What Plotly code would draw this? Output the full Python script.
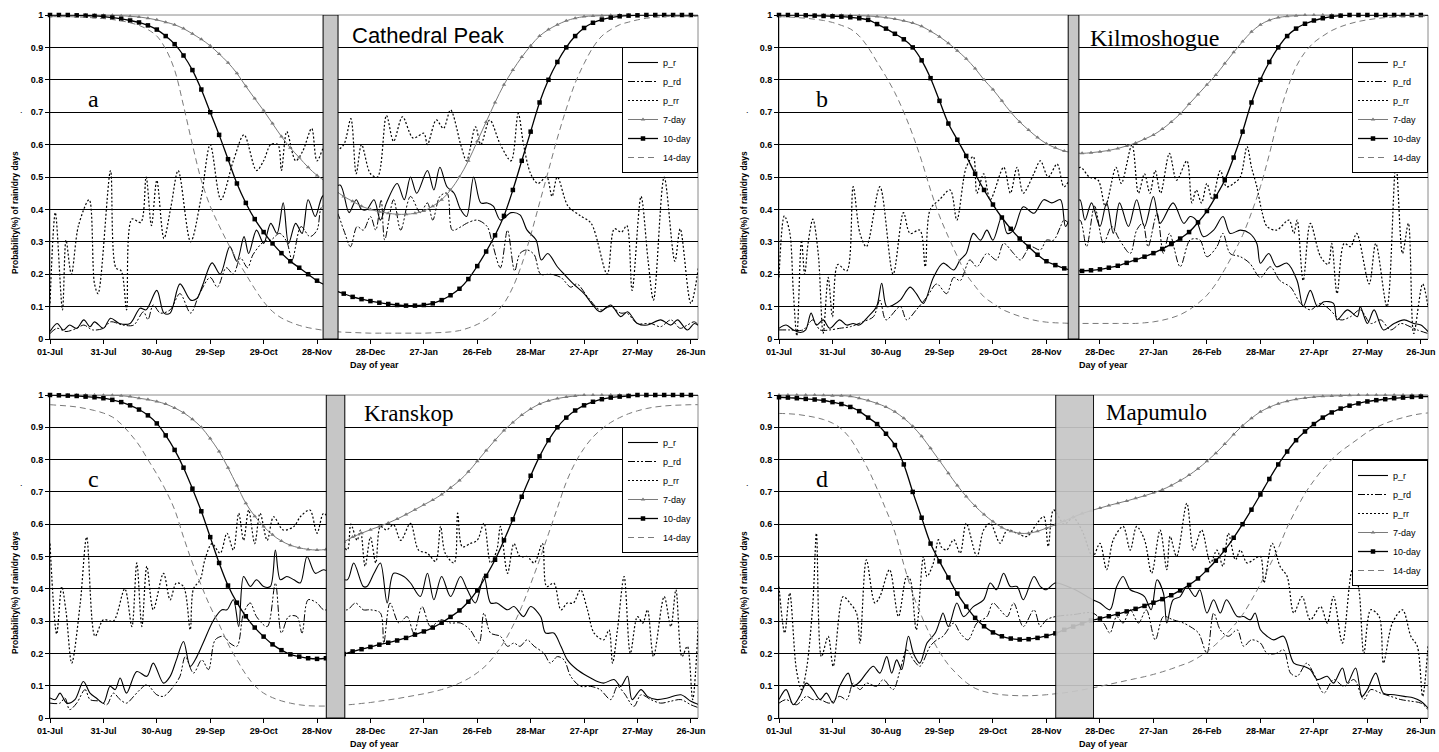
import plotly.graph_objects as go

W, H = 1439, 752
SANS = "Liberation Sans, Arial, sans-serif"
SERIF = "Liberation Serif, Times New Roman, serif"

# ---------------- axes / labels ----------------
DAYS5 = list(range(0, 366, 5))
TICK_DAYS = [0, 30, 60, 90, 120, 150, 180, 210, 240, 270, 300, 330, 360]
TICK_LABELS = ["01-Jul", "31-Jul", "30-Aug", "29-Sep", "29-Oct", "28-Nov", "28-Dec",
               "27-Jan", "26-Feb", "28-Mar", "27-Apr", "27-May", "26-Jun"]
Y_TICKS = [0, 0.1, 0.2, 0.3, 0.4, 0.5, 0.6, 0.7, 0.8, 0.9, 1]
Y_LABELS = ["0", "0.1", "0.2", "0.3", "0.4", "0.5", "0.6", "0.7", "0.8", "0.9", "1"]
STATIONS = ["Cathedral Peak", "Kilmoshogue", "Kranskop", "Mapumulo"]
LETTERS = ["a", "b", "c", "d"]
SERIES = ["p_r", "p_rd", "p_rr", "7-day", "10-day", "14-day"]
BAR_START = [153.4, 162.2, 155.2, 155.2]
BAR_END = [161.8, 168.2, 165.6, 176.4]

# ---------------- smooth dry-spell curves (every 5 days) ----------------
A_7DAY = [1, 1, 1, 1, 1, 1, 0.999, 0.999, 0.998, 0.996,
          0.994, 0.99, 0.985, 0.978, 0.97, 0.958, 0.942, 0.925, 0.905, 0.88,
          0.853, 0.82, 0.78, 0.742, 0.705, 0.665, 0.625, 0.59, 0.56, 0.53,
          0.505, 0.485, 0.46, 0.44, 0.425, 0.41, 0.4, 0.393, 0.388, 0.385,
          0.385, 0.388, 0.395, 0.41, 0.43, 0.46, 0.5, 0.55, 0.61, 0.67,
          0.73, 0.785, 0.83, 0.87, 0.905, 0.935, 0.955, 0.97, 0.982, 0.99,
          0.995, 0.997, 0.998, 0.999, 1, 1, 1, 1, 1, 1,
          1, 1, 1, 1]
A_10DAY = [1, 1, 1, 0.999, 0.998, 0.997, 0.995, 0.992, 0.988, 0.983,
           0.977, 0.968, 0.955, 0.935, 0.91, 0.875, 0.83, 0.77, 0.7, 0.63,
           0.555, 0.48, 0.42, 0.37, 0.33, 0.295, 0.265, 0.24, 0.22, 0.2,
           0.18, 0.165, 0.15, 0.14, 0.13, 0.123, 0.117, 0.112, 0.108, 0.105,
           0.103, 0.103, 0.105, 0.11, 0.12, 0.135, 0.155, 0.185, 0.225, 0.27,
           0.32, 0.38, 0.46, 0.55, 0.64, 0.73, 0.8, 0.855, 0.9, 0.935,
           0.96, 0.976, 0.986, 0.992, 0.996, 0.998, 0.999, 1, 1, 1,
           1, 1, 1, 1]
A_14DAY = [0.995, 0.995, 0.995, 0.994, 0.993, 0.991, 0.989, 0.986, 0.982, 0.976,
           0.968, 0.955, 0.935, 0.895, 0.83, 0.72, 0.6, 0.49, 0.41, 0.35,
           0.295, 0.245, 0.2, 0.155, 0.115, 0.085, 0.065, 0.052, 0.042, 0.035,
           0.03, 0.026, 0.023, 0.021, 0.02, 0.019, 0.018, 0.018, 0.018, 0.018,
           0.018, 0.018, 0.018, 0.019, 0.02, 0.022, 0.026, 0.034, 0.045, 0.06,
           0.08, 0.11, 0.16, 0.23, 0.32, 0.42, 0.52, 0.62, 0.71, 0.79,
           0.85, 0.9, 0.935, 0.955, 0.97, 0.978, 0.985, 0.99, 0.993, 0.995,
           0.996, 0.996, 0.996, 0.996]

B_7DAY = [1, 1, 1, 1, 1, 1, 1, 0.999, 0.999, 0.998,
          0.997, 0.995, 0.992, 0.988, 0.982, 0.975, 0.965, 0.95, 0.933, 0.913,
          0.89, 0.865, 0.835, 0.8, 0.77, 0.735, 0.7, 0.67, 0.645, 0.622,
          0.603, 0.59, 0.58, 0.575, 0.573, 0.575, 0.578, 0.582, 0.588, 0.596,
          0.605, 0.617, 0.63, 0.648, 0.67, 0.695, 0.725, 0.755, 0.785, 0.815,
          0.85, 0.885, 0.918, 0.948, 0.97, 0.984, 0.992, 0.996, 0.998, 1,
          1, 1, 1, 1, 1, 1, 1, 1, 1, 1,
          1, 1, 1, 1]
B_10DAY = [1, 1, 1, 0.999, 0.998, 0.997, 0.996, 0.995, 0.993, 0.99,
           0.985, 0.972, 0.958, 0.942, 0.925, 0.9, 0.86, 0.805, 0.735, 0.665,
           0.615, 0.565, 0.51, 0.46, 0.415, 0.375, 0.34, 0.31, 0.285, 0.26,
           0.24, 0.228, 0.218, 0.212, 0.21, 0.212, 0.215, 0.22, 0.226, 0.235,
           0.244, 0.254, 0.265, 0.278, 0.293, 0.31, 0.33, 0.36, 0.395, 0.44,
           0.49, 0.56, 0.64, 0.73, 0.8, 0.855, 0.9, 0.935, 0.958, 0.973,
           0.983, 0.99, 0.995, 0.998, 1, 1, 1, 1, 1, 1,
           1, 1, 1, 1]
B_14DAY = [0.995, 0.994, 0.992, 0.99, 0.987, 0.983, 0.977, 0.968, 0.957, 0.935,
           0.9, 0.855, 0.81, 0.76, 0.7, 0.63, 0.55, 0.46, 0.38, 0.315,
           0.255, 0.2, 0.163, 0.13, 0.11, 0.092, 0.08, 0.07, 0.062, 0.056,
           0.052, 0.05, 0.049, 0.048, 0.048, 0.048, 0.048, 0.048, 0.048, 0.048,
           0.048, 0.05, 0.053, 0.058, 0.065, 0.075, 0.09, 0.11, 0.135, 0.17,
           0.215, 0.265, 0.32, 0.39, 0.47, 0.57, 0.68, 0.77, 0.84, 0.885,
           0.915, 0.935, 0.952, 0.964, 0.973, 0.98, 0.985, 0.989, 0.992, 0.994,
           0.996, 0.997, 0.997, 0.997]

C_7DAY = [1, 1, 1, 1, 1, 1, 0.999, 0.999, 0.998, 0.995,
          0.99, 0.986, 0.98, 0.972, 0.96, 0.945, 0.925, 0.9, 0.865, 0.825,
          0.775, 0.72, 0.665, 0.625, 0.593, 0.567, 0.548, 0.535, 0.527, 0.522,
          0.52, 0.522, 0.528, 0.545, 0.56, 0.572, 0.583, 0.593, 0.604, 0.616,
          0.63, 0.645, 0.66, 0.675, 0.692, 0.713, 0.735, 0.762, 0.795, 0.828,
          0.86, 0.89, 0.915, 0.938, 0.957, 0.972, 0.982, 0.989, 0.994, 0.997,
          1, 1, 1, 1, 1, 1, 1, 1, 1, 1,
          1, 1, 1, 1]
C_10DAY = [1, 0.999, 0.998, 0.997, 0.995, 0.993, 0.99, 0.985, 0.978, 0.968,
           0.955, 0.937, 0.912, 0.875, 0.83, 0.775, 0.71, 0.64, 0.56, 0.48,
           0.41, 0.357, 0.315, 0.28, 0.252, 0.228, 0.21, 0.197, 0.19, 0.185,
           0.183, 0.185, 0.19, 0.198, 0.206, 0.213, 0.22, 0.227, 0.233, 0.24,
           0.248, 0.258, 0.268, 0.28, 0.295, 0.313, 0.333, 0.36, 0.395, 0.44,
           0.49, 0.55, 0.615, 0.685, 0.75, 0.81, 0.86, 0.9, 0.93, 0.952,
           0.968, 0.979, 0.987, 0.992, 0.995, 0.997, 1, 1, 1, 1,
           1, 1, 1, 1]
C_14DAY = [0.97, 0.968, 0.966, 0.963, 0.958, 0.952, 0.944, 0.932, 0.91, 0.88,
           0.845, 0.8, 0.755, 0.705, 0.645, 0.56, 0.48, 0.41, 0.345, 0.29,
           0.23, 0.18, 0.135, 0.1, 0.077, 0.063, 0.053, 0.046, 0.041, 0.038,
           0.037, 0.037, 0.038, 0.04, 0.042, 0.045, 0.048, 0.052, 0.056, 0.06,
           0.065, 0.07, 0.075, 0.081, 0.088, 0.097, 0.108, 0.122, 0.14, 0.163,
           0.195, 0.235, 0.285, 0.345, 0.415, 0.49, 0.57, 0.65, 0.73, 0.79,
           0.835, 0.87, 0.895, 0.915, 0.93, 0.942, 0.951, 0.958, 0.963, 0.966,
           0.968, 0.969, 0.97, 0.97]

D_7DAY = [1, 1, 1, 1, 1, 0.999, 0.998, 0.998, 0.996, 0.99,
          0.983, 0.974, 0.963, 0.948, 0.928, 0.903, 0.872, 0.835, 0.797, 0.758,
          0.72, 0.686, 0.656, 0.63, 0.608, 0.59, 0.578, 0.572, 0.572, 0.578,
          0.588, 0.598, 0.61, 0.622, 0.633, 0.642, 0.65, 0.658, 0.665, 0.672,
          0.68, 0.688, 0.697, 0.707, 0.72, 0.735, 0.752, 0.772, 0.795, 0.82,
          0.848, 0.878, 0.905, 0.928, 0.948, 0.962, 0.973, 0.981, 0.987, 0.991,
          0.994, 0.996, 0.997, 0.998, 0.999, 1, 1, 1, 1, 1,
          1, 1, 1, 1]
D_10DAY = [0.993, 0.992, 0.99, 0.988, 0.986, 0.983, 0.978, 0.972, 0.963, 0.95,
           0.93, 0.91, 0.88, 0.845, 0.785, 0.7, 0.62, 0.54, 0.485, 0.435,
           0.385, 0.345, 0.31, 0.284, 0.265, 0.253, 0.246, 0.243, 0.244, 0.248,
           0.254, 0.262, 0.273, 0.283, 0.293, 0.302, 0.308, 0.315, 0.322, 0.33,
           0.338, 0.347, 0.357, 0.368, 0.38, 0.395, 0.412, 0.432, 0.458, 0.487,
           0.52, 0.558, 0.6, 0.645, 0.692, 0.74, 0.785, 0.825, 0.86, 0.887,
           0.91, 0.93, 0.946, 0.958, 0.967, 0.974, 0.98, 0.984, 0.987, 0.99,
           0.992, 0.994, 0.995, 0.995]
D_14DAY = [0.943, 0.942, 0.94, 0.936, 0.931, 0.924, 0.913, 0.895, 0.865, 0.82,
           0.77, 0.71, 0.645, 0.575, 0.475, 0.385, 0.315, 0.255, 0.205, 0.165,
           0.135, 0.11, 0.092, 0.082, 0.076, 0.072, 0.07, 0.069, 0.069, 0.07,
           0.072, 0.075, 0.078, 0.082, 0.087, 0.092, 0.098, 0.104, 0.11, 0.116,
           0.122, 0.128, 0.135, 0.143, 0.152, 0.162, 0.172, 0.187, 0.205, 0.228,
           0.255, 0.285, 0.32, 0.365, 0.415, 0.47, 0.525, 0.59, 0.645, 0.695,
           0.735, 0.77, 0.8, 0.825, 0.845, 0.865, 0.885, 0.9, 0.912, 0.922,
           0.93, 0.937, 0.942, 0.945]

# ---------------- daily probabilities (day, value) read at turning points ----------------
A_PR = [(0, 0.023), (4, 0.048), (7.5, 0.028), (11, 0.043), (15, 0.033), (19, 0.059), (22.5, 0.038),
        (25, 0.053), (30, 0.033), (34, 0.064), (39, 0.048), (45, 0.048), (50.6, 0.095), (54, 0.09),
        (60, 0.15), (64, 0.08), (67.5, 0.08), (73, 0.17), (79, 0.12), (82.5, 0.125), (86, 0.17),
        (91, 0.235), (95.6, 0.2), (101, 0.285), (105, 0.24), (109, 0.316), (111.6, 0.264), (116, 0.336),
        (120, 0.295), (124, 0.357), (127.5, 0.326), (131, 0.42), (134, 0.295), (138, 0.357),
        (141.6, 0.326), (145, 0.43), (149, 0.378), (153, 0.44), (158, 0.46), (163, 0.475), (168, 0.39),
        (172, 0.43), (175, 0.4), (178, 0.4), (182, 0.43), (185.6, 0.367), (189, 0.42), (195, 0.48),
        (199, 0.43), (202.5, 0.5), (206, 0.45), (212, 0.52), (215.6, 0.46), (219, 0.53), (223, 0.47),
        (227, 0.45), (230.6, 0.4), (234, 0.378), (238, 0.5), (242, 0.42), (245.6, 0.42), (249, 0.41),
        (253, 0.367), (259, 0.39), (264, 0.383), (268, 0.336), (273, 0.306), (276, 0.244),
        (279.6, 0.264), (285, 0.223), (288.8, 0.2), (294, 0.17), (300, 0.14), (305.6, 0.1),
        (309, 0.084), (315, 0.105), (320.6, 0.069), (324.4, 0.084), (330, 0.048), (335.6, 0.043),
        (343, 0.059), (348.8, 0.043), (352.5, 0.059), (358, 0.028), (362, 0.048), (365, 0.038)]
A_PRD = [(0, 0.017), (4, 0.033), (9, 0.023), (15, 0.033), (19, 0.043), (24, 0.028), (30, 0.033),
         (34, 0.053), (41, 0.043), (47, 0.043), (52.5, 0.084), (55, 0.06), (58, 0.105), (62, 0.08),
         (67.5, 0.09), (73, 0.14), (79, 0.08), (84, 0.14), (90, 0.19), (94, 0.16), (99, 0.22),
         (103, 0.2), (107, 0.25), (111, 0.22), (114, 0.26), (120, 0.3), (124, 0.305), (129, 0.326),
         (133, 0.3), (136, 0.244), (141, 0.347), (146, 0.316), (150, 0.336), (153, 0.41), (160, 0.4),
         (165, 0.336), (168.8, 0.285), (172.5, 0.347), (176, 0.336), (180, 0.378), (183, 0.336),
         (186, 0.43), (188, 0.306), (193, 0.43), (197, 0.336), (202.5, 0.44), (208, 0.39), (212, 0.42),
         (215, 0.367), (219, 0.44), (223, 0.45), (226, 0.336), (231, 0.347), (234, 0.357), (240, 0.367),
         (245.6, 0.347), (248, 0.306), (253, 0.22), (257, 0.336), (261, 0.21), (264, 0.264),
         (268, 0.275), (272, 0.26), (275.6, 0.2), (281, 0.2), (287, 0.19), (292.5, 0.16), (296, 0.17),
         (302, 0.13), (309, 0.09), (315, 0.1), (320.6, 0.08), (324, 0.08), (330, 0.048), (337.5, 0.048),
         (343, 0.038), (348.8, 0.059), (354, 0.033), (358, 0.043), (362, 0.053), (365, 0.038)]
A_PRR = [(0, 0.11), (3, 0.39), (7, 0.09), (9, 0.305), (12, 0.2), (16, 0.35), (22, 0.43), (25, 0.17),
         (27, 0.14), (34, 0.52), (37, 0.22), (40, 0.21), (43, 0.09), (46, 0.37), (51, 0.36), (54, 0.5),
         (57, 0.35), (60, 0.49), (64, 0.31), (68, 0.41), (72, 0.52), (79, 0.3), (85, 0.44), (90, 0.6),
         (96, 0.43), (103, 0.55), (109, 0.63), (116, 0.52), (120, 0.55), (124, 0.6), (128, 0.6),
         (130, 0.52), (133, 0.64), (138, 0.55), (142, 0.58), (147, 0.65), (150, 0.55), (155, 0.6),
         (160, 0.58), (165, 0.6), (169, 0.68), (172, 0.51), (175, 0.6), (180, 0.51), (184, 0.5),
         (189, 0.69), (193, 0.61), (198, 0.686), (204, 0.62), (210, 0.635), (212, 0.6), (217, 0.676),
         (221, 0.65), (225, 0.707), (231, 0.594), (234, 0.55), (239, 0.655), (242, 0.6), (247, 0.676),
         (253, 0.6), (259, 0.55), (263, 0.696), (266, 0.6), (270, 0.51), (274, 0.48), (279, 0.5),
         (282, 0.44), (285, 0.5), (291, 0.41), (298, 0.38), (304, 0.357), (313, 0.2), (317, 0.34),
         (321, 0.33), (324, 0.35), (327, 0.15), (332, 0.44), (336, 0.24), (339, 0.12), (345, 0.5),
         (351, 0.24), (354, 0.34), (360, 0.11), (365, 0.25)]

B_PR = [(0, 0.033), (4, 0.043), (8, 0.028), (12, 0.02), (15, 0.028), (18, 0.08), (21, 0.043),
        (24.75, 0.059), (28.5, 0.033), (34, 0.059), (38, 0.043), (41.6, 0.048), (45, 0.043), (50, 0.069),
        (54.75, 0.1), (57.6, 0.172), (60.4, 0.1), (64, 0.105), (68, 0.12), (73.5, 0.16), (77, 0.14),
        (81, 0.11), (86.6, 0.19), (92, 0.234), (98, 0.213), (101.6, 0.244), (105, 0.264), (109, 0.326),
        (113, 0.305), (116.6, 0.336), (120, 0.305), (125, 0.378), (128, 0.326), (131.6, 0.336),
        (137, 0.408), (143, 0.388), (148.5, 0.43), (153, 0.42), (157.9, 0.43), (160.7, 0.347),
        (165, 0.4), (168.8, 0.43), (171.6, 0.367), (175.3, 0.42), (180, 0.347), (183.75, 0.42),
        (187.5, 0.326), (191, 0.42), (196, 0.347), (200.6, 0.43), (205, 0.347), (210, 0.44),
        (213.75, 0.357), (221, 0.42), (227, 0.357), (230.6, 0.378), (234, 0.367), (238, 0.316),
        (243.75, 0.336), (249, 0.378), (253, 0.326), (258.75, 0.336), (264, 0.326), (268, 0.295),
        (270, 0.234), (274.7, 0.264), (279, 0.223), (285, 0.234), (290.6, 0.18), (294, 0.1),
        (298, 0.15), (302, 0.1), (305.6, 0.115), (311, 0.11), (313, 0.059), (318.75, 0.09),
        (324.4, 0.069), (326, 0.1), (330, 0.048), (333.75, 0.09), (339, 0.028), (345, 0.048),
        (350.6, 0.059), (356, 0.048), (360, 0.043), (364, 0.023)]
B_PRD = [(0, 0.028), (6, 0.028), (13.5, 0.028), (19, 0.059), (23, 0.028), (28.5, 0.028), (34, 0.033),
         (40, 0.038), (47, 0.053), (53, 0.069), (56.6, 0.12), (60, 0.059), (68, 0.1), (71.6, 0.059),
         (77, 0.09), (83, 0.13), (88.5, 0.17), (94, 0.14), (98, 0.19), (101.6, 0.18), (107, 0.244),
         (111, 0.223), (116.6, 0.264), (122, 0.244), (126, 0.295), (131.6, 0.264), (135.4, 0.244),
         (141, 0.285), (146.6, 0.275), (150, 0.305), (154, 0.305), (157.9, 0.347), (159.8, 0.367),
         (165, 0.35), (168.8, 0.367), (172.5, 0.285), (177, 0.41), (182, 0.295), (186.6, 0.347),
         (191, 0.306), (197, 0.264), (200.6, 0.336), (204, 0.357), (207, 0.285), (212, 0.388),
         (215.6, 0.264), (219, 0.326), (225, 0.223), (230.6, 0.306), (236, 0.306), (240, 0.254),
         (245.6, 0.285), (249, 0.326), (253, 0.264), (258.75, 0.254), (264, 0.234), (270, 0.19),
         (275.6, 0.223), (281, 0.18), (286.9, 0.16), (292.5, 0.11), (298, 0.09), (303.75, 0.11),
         (309, 0.09), (315, 0.059), (320.6, 0.069), (326, 0.09), (331.9, 0.048), (337.5, 0.059),
         (343, 0.028), (348.75, 0.048), (354, 0.038), (358, 0.028), (364, 0.017)]
B_PRR = [(0, 0.19), (3, 0.38), (6, 0.33), (8, 0.15), (10, 0.01), (12.6, 0.305), (14.4, 0.2),
         (16.3, 0.295), (19, 0.37), (22, 0.264), (24.75, 0.017), (27.6, 0.19), (30, 0.069), (33, 0.23),
         (38, 0.21), (41.6, 0.47), (45.4, 0.326), (49, 0.285), (56.6, 0.47), (64, 0.2), (69.8, 0.39),
         (73.5, 0.326), (79, 0.336), (82, 0.223), (84.8, 0.4), (90, 0.43), (96, 0.46), (99.75, 0.367),
         (105, 0.53), (109, 0.563), (111, 0.45), (114.8, 0.51), (118.5, 0.43), (126, 0.53),
         (129.8, 0.45), (133.5, 0.53), (137, 0.45), (142.9, 0.51), (146.6, 0.55), (151, 0.5),
         (156, 0.54), (159.8, 0.47), (164, 0.5), (169, 0.53), (174, 0.5), (179, 0.49), (183, 0.41),
         (189, 0.53), (192, 0.48), (198, 0.6), (201.6, 0.45), (205, 0.51), (208, 0.45), (211, 0.52),
         (214, 0.45), (219, 0.573), (223, 0.49), (228.75, 0.55), (231.6, 0.42), (234, 0.46),
         (237, 0.42), (240, 0.48), (243, 0.43), (247.5, 0.52), (251, 0.47), (255, 0.48),
         (258.75, 0.5), (262.5, 0.594), (265, 0.53), (268, 0.47), (271, 0.39), (273.75, 0.347),
         (279, 0.336), (286, 0.367), (288.75, 0.326), (290.6, 0.367), (294, 0.18), (298, 0.357),
         (303.75, 0.254), (308, 0.23), (310, 0.295), (313, 0.14), (317, 0.295), (320.6, 0.285),
         (324, 0.326), (331, 0.17), (334.7, 0.295), (341, 0.1), (346, 0.54), (349.7, 0.264),
         (353, 0.357), (356, 0.017), (361, 0.17), (364, 0.1)]

C_PR = [(0, 0.062), (3, 0.057), (5.6, 0.077), (9.4, 0.046), (14, 0.057), (18.75, 0.113), (22.5, 0.077),
        (26, 0.062), (30, 0.046), (33.75, 0.098), (36.6, 0.088), (39.4, 0.124), (43, 0.077),
        (48.75, 0.144), (54.4, 0.129), (58, 0.17), (63.75, 0.108), (67.5, 0.129), (71, 0.18),
        (75, 0.237), (78.75, 0.16), (82.5, 0.19), (86, 0.232), (92, 0.304), (96.6, 0.335),
        (99.4, 0.335), (103, 0.366), (106, 0.283), (108.75, 0.438), (112.5, 0.407), (116, 0.428),
        (120, 0.407), (123.75, 0.407), (126.6, 0.52), (129.4, 0.428), (133, 0.438), (137, 0.428),
        (140.6, 0.418), (144.4, 0.5), (149, 0.448), (153.75, 0.459), (160, 0.44), (167, 0.428),
        (170.6, 0.48), (176, 0.407), (178, 0.407), (182, 0.448), (185.6, 0.48), (189.4, 0.356),
        (193, 0.448), (198.75, 0.438), (202.5, 0.418), (208, 0.376), (212, 0.448), (215.6, 0.366),
        (220, 0.438), (225, 0.376), (230.6, 0.438), (234.4, 0.397), (239, 0.356), (243.75, 0.438),
        (247.5, 0.356), (251, 0.356), (257, 0.335), (260.6, 0.345), (266, 0.314), (270, 0.345),
        (275.6, 0.314), (278.4, 0.263), (283, 0.263), (287, 0.222), (290.6, 0.18), (296, 0.15),
        (301.9, 0.129), (307.5, 0.113), (311, 0.108), (316.9, 0.119), (320.6, 0.098), (324.4, 0.129),
        (327, 0.057), (332, 0.088), (335.6, 0.067), (341, 0.057), (346.9, 0.062), (354.4, 0.072),
        (360, 0.052), (364.7, 0.041)]
C_PRD = [(0, 0.046), (5.6, 0.046), (8.4, 0.062), (11, 0.026), (15, 0.046), (19.7, 0.088), (22.5, 0.057),
         (28, 0.052), (31.9, 0.041), (35.6, 0.077), (39.4, 0.057), (43, 0.046), (47, 0.067),
         (50.6, 0.088), (54.4, 0.103), (60, 0.072), (63.75, 0.067), (69.4, 0.098), (73, 0.129),
         (76, 0.19), (80.6, 0.139), (85.3, 0.18), (89, 0.15), (92.8, 0.242), (97.5, 0.253),
         (101, 0.232), (105, 0.222), (108.75, 0.325), (112.5, 0.356), (116, 0.314), (122, 0.283),
         (126.6, 0.418), (130, 0.263), (134, 0.314), (138.75, 0.314), (141.6, 0.263), (145, 0.366),
         (150, 0.356), (153.75, 0.335), (160, 0.34), (167, 0.335), (171.6, 0.356), (176, 0.335),
         (180, 0.335), (185.6, 0.325), (187.5, 0.232), (191, 0.356), (196, 0.294), (200.6, 0.314),
         (204.4, 0.263), (209, 0.345), (213.75, 0.283), (219.4, 0.304), (225, 0.294), (230.6, 0.294),
         (236, 0.273), (241, 0.232), (243.75, 0.325), (247.5, 0.263), (253, 0.253), (257, 0.222),
         (260.6, 0.232), (264, 0.222), (268, 0.242), (272, 0.222), (277.5, 0.2), (281, 0.17),
         (285, 0.19), (288.75, 0.18), (292.5, 0.129), (298, 0.098), (303.75, 0.098), (309, 0.088),
         (315, 0.057), (318.75, 0.098), (322.5, 0.077), (328, 0.036), (332, 0.072), (337.5, 0.057),
         (343, 0.046), (348.75, 0.052), (354.4, 0.057), (360, 0.041), (364.7, 0.031)]
C_PRR = [(0, 0.54), (3.75, 0.26), (6.6, 0.407), (9, 0.33), (12.2, 0.17), (17, 0.356), (20.6, 0.56),
         (25.3, 0.253), (30, 0.304), (35.6, 0.3), (42, 0.4), (46, 0.283), (48.75, 0.48), (51.6, 0.283),
         (54.4, 0.47), (58, 0.335), (63.75, 0.448), (67.5, 0.366), (71, 0.418), (75, 0.407),
         (78.75, 0.273), (80.6, 0.4), (84.4, 0.428), (87, 0.49), (91, 0.54), (95.6, 0.51),
         (99.4, 0.572), (103, 0.52), (106, 0.634), (108.75, 0.55), (111.6, 0.644), (115, 0.54),
         (118, 0.634), (122, 0.55), (125.6, 0.623), (131, 0.582), (137, 0.593), (140.6, 0.623),
         (146, 0.644), (150, 0.572), (153.75, 0.634), (160, 0.58), (167, 0.52), (169, 0.6),
         (172.5, 0.55), (174.4, 0.582), (177, 0.47), (180, 0.56), (183, 0.48), (185.6, 0.593),
         (189, 0.582), (193, 0.598), (197, 0.55), (202.5, 0.603), (207, 0.52), (212, 0.51),
         (216.6, 0.485), (219.4, 0.593), (222, 0.51), (227, 0.48), (229, 0.634), (231.6, 0.53),
         (236, 0.54), (240, 0.55), (243.75, 0.603), (247.5, 0.48), (251, 0.52), (253, 0.593),
         (257, 0.448), (260.6, 0.54), (264, 0.5), (268, 0.5), (272, 0.48), (276.6, 0.54), (279, 0.407),
         (283, 0.418), (287, 0.335), (290.6, 0.356), (294, 0.356), (298, 0.397), (301.9, 0.335),
         (305.6, 0.263), (311, 0.242), (314, 0.273), (316, 0.17), (318.75, 0.273), (322.5, 0.438),
         (326, 0.2), (330, 0.314), (333, 0.294), (335.6, 0.335), (339, 0.19), (345, 0.376),
         (348.75, 0.283), (351.6, 0.397), (355, 0.19), (358, 0.222), (361, 0.057), (364.7, 0.356)]

D_PR = [(0, 0.057), (4, 0.088), (8, 0.041), (11.6, 0.067), (15.4, 0.108), (19, 0.088), (23, 0.057),
        (26.6, 0.077), (30.4, 0.046), (34, 0.098), (38.8, 0.139), (41.6, 0.098), (45.4, 0.113),
        (49, 0.139), (52.9, 0.16), (56.6, 0.139), (60.4, 0.19), (63.2, 0.139), (66, 0.18), (68.8, 0.15),
        (72.6, 0.253), (75.4, 0.2), (79, 0.17), (83, 0.232), (87.6, 0.263), (90.4, 0.304), (92, 0.325),
        (95, 0.283), (99.75, 0.356), (103.5, 0.314), (109, 0.345), (114.75, 0.366), (118.5, 0.418),
        (122, 0.397), (126, 0.448), (129.75, 0.407), (133.5, 0.407), (137, 0.366), (143, 0.438),
        (146.6, 0.407), (150, 0.397), (155, 0.418), (165, 0.4), (176, 0.366), (180, 0.356),
        (185.6, 0.335), (189.4, 0.407), (193, 0.438), (197, 0.397), (201.6, 0.387), (205, 0.376),
        (208.75, 0.335), (212, 0.428), (215.6, 0.387), (217.5, 0.294), (221, 0.366), (225, 0.376),
        (228.75, 0.407), (233.4, 0.376), (236, 0.397), (240, 0.325), (243.75, 0.366), (247.5, 0.325),
        (251, 0.366), (257, 0.314), (260.6, 0.314), (264.4, 0.304), (267, 0.325), (270, 0.273),
        (273.75, 0.253), (277.5, 0.242), (283, 0.253), (288.75, 0.17), (294.4, 0.16), (298, 0.15),
        (301.9, 0.119), (307.5, 0.129), (311, 0.108), (316, 0.155), (318.75, 0.108), (323.4, 0.155),
        (327, 0.067), (330, 0.088), (334.7, 0.139), (339, 0.077), (345, 0.072), (350.6, 0.067),
        (356, 0.062), (360, 0.052), (364, 0.031)]
D_PRD = [(0, 0.046), (4, 0.057), (9.75, 0.041), (15.4, 0.067), (19, 0.057), (23, 0.057), (28.5, 0.046),
         (34, 0.067), (38, 0.057), (41.6, 0.108), (45.4, 0.088), (49, 0.108), (54.75, 0.098),
         (58.5, 0.119), (64, 0.088), (68, 0.15), (71.6, 0.211), (75.4, 0.18), (79, 0.16),
         (84.75, 0.222), (88.5, 0.242), (92, 0.253), (98, 0.294), (101.6, 0.263), (106, 0.242),
         (111, 0.294), (116.6, 0.314), (120, 0.356), (124, 0.335), (128, 0.314), (131.6, 0.356),
         (137, 0.283), (143, 0.335), (146.6, 0.283), (150, 0.304), (155, 0.314), (165, 0.32),
         (176, 0.325), (182, 0.294), (185.6, 0.263), (189.4, 0.314), (193, 0.294), (197, 0.335),
         (201.6, 0.294), (206, 0.335), (211, 0.242), (215.6, 0.314), (221, 0.304), (226.9, 0.294),
         (230.6, 0.283), (235.3, 0.263), (240, 0.2), (243.75, 0.325), (247.5, 0.273), (252, 0.253),
         (257, 0.273), (260.6, 0.222), (265, 0.242), (270, 0.232), (273.75, 0.2), (279, 0.2),
         (283, 0.211), (286.9, 0.139), (290.6, 0.129), (296, 0.17), (299.75, 0.139), (305.6, 0.077),
         (311, 0.119), (316.9, 0.098), (322.5, 0.119), (328, 0.057), (331.9, 0.088), (337.5, 0.077),
         (343, 0.067), (348.75, 0.057), (354.4, 0.052), (360, 0.046), (364, 0.026)]
D_PRR = [(0, 0.407), (3.2, 0.263), (6, 0.387), (9.75, 0.15), (12.6, 0.088), (15.4, 0.15), (19, 0.356),
         (21, 0.572), (23.8, 0.19), (27.6, 0.253), (30.4, 0.16), (36, 0.376), (39.75, 0.356),
         (43.5, 0.325), (45.4, 0.232), (49, 0.49), (53.8, 0.356), (56.6, 0.376), (62, 0.459),
         (67, 0.314), (71.6, 0.438), (73.5, 0.43), (77, 0.273), (81, 0.5), (83, 0.438), (86.6, 0.48),
         (89.4, 0.552), (91, 0.53), (94, 0.52), (98, 0.552), (101.6, 0.51), (105, 0.603), (111, 0.5),
         (114.75, 0.582), (118.5, 0.603), (124, 0.541), (128, 0.582), (133.5, 0.572), (139, 0.562),
         (144.75, 0.603), (148.5, 0.624), (151, 0.531), (154, 0.644), (160, 0.6), (165, 0.62),
         (170, 0.58), (176, 0.5), (180, 0.541), (183.75, 0.459), (187.5, 0.552), (193, 0.593),
         (197, 0.52), (200.6, 0.593), (205, 0.552), (209, 0.448), (213.75, 0.582), (217.5, 0.459),
         (219.4, 0.562), (223, 0.5), (228.75, 0.665), (232.5, 0.52), (237, 0.582), (242, 0.48),
         (245.6, 0.52), (249, 0.47), (252, 0.572), (256, 0.49), (258.75, 0.52), (262.5, 0.48),
         (266, 0.49), (270, 0.5), (272, 0.418), (276.6, 0.541), (281, 0.47), (285, 0.438),
         (288.75, 0.325), (293.4, 0.376), (298, 0.304), (303.75, 0.345), (307.5, 0.294), (311, 0.376),
         (316, 0.232), (321.6, 0.459), (325, 0.407), (328, 0.2), (331.9, 0.335), (336.6, 0.314),
         (339, 0.17), (344, 0.294), (349.7, 0.335), (354.4, 0.253), (358, 0.222), (361, 0.067),
         (364, 0.222)]

PANELS = [
    dict(pr=A_PR, prd=A_PRD, prr=A_PRR, d7=A_7DAY, d10=A_10DAY, d14=A_14DAY),
    dict(pr=B_PR, prd=B_PRD, prr=B_PRR, d7=B_7DAY, d10=B_10DAY, d14=B_14DAY),
    dict(pr=C_PR, prd=C_PRD, prr=C_PRR, d7=C_7DAY, d10=C_10DAY, d14=C_14DAY),
    dict(pr=D_PR, prd=D_PRD, prr=D_PRR, d7=D_7DAY, d10=D_10DAY, d14=D_14DAY),
]

# ---------------- layout geometry (pixels of the page) ----------------
PLOT_X = [(50, 698), (779, 1428), (50, 698), (779, 1428)]
PLOT_Y = [(15, 339), (15, 339), (395, 718), (395, 718)]


def px(x):
    return x / W


def py(y):
    return 1 - y / H


fig = go.Figure()

GREY = "#7a7a7a"
for i, P in enumerate(PANELS):
    sfx = "" if i == 0 else str(i + 1)
    xa, ya, lg = "x" + sfx, "y" + sfx, "legend" + sfx

    def add(name, x, y, **kw):
        fig.add_trace(go.Scatter(x=x, y=y, name=name, xaxis=xa, yaxis=ya, legend=lg, **kw))

    xr = [d for d, _ in P["pr"]]; yr = [v for _, v in P["pr"]]
    add(SERIES[0], xr, yr, mode="lines",
        line=dict(color="black", width=1.1, shape="spline", smoothing=0.9))
    xr = [d for d, _ in P["prd"]]; yr = [v for _, v in P["prd"]]
    add(SERIES[1], xr, yr, mode="lines",
        line=dict(color="black", width=1, dash="7px,2px,2px,2px,2px,2px", shape="spline", smoothing=0.9))
    xr = [d for d, _ in P["prr"]]; yr = [v for _, v in P["prr"]]
    add(SERIES[2], xr, yr, mode="lines",
        line=dict(color="black", width=1.2, dash="2px,2px", shape="spline", smoothing=0.9))
    add(SERIES[3], DAYS5, P["d7"], mode="lines+markers", cliponaxis=False,
        line=dict(color=GREY, width=1, shape="spline"),
        marker=dict(symbol="triangle-up", size=4, color=GREY))
    add(SERIES[4], DAYS5, P["d10"], mode="lines+markers", cliponaxis=False,
        line=dict(color="black", width=1.3, shape="spline"),
        marker=dict(symbol="square", size=4.5, color="black"))
    add(SERIES[5], DAYS5, P["d14"], mode="lines", cliponaxis=False,
        line=dict(color=GREY, width=1, dash="6px,4px", shape="spline"))

layout = dict(
    width=W, height=H, margin=dict(l=0, r=0, t=0, b=0),
    paper_bgcolor="white", plot_bgcolor="white", showlegend=True,
    font=dict(family=SANS, color="black"),
)
shapes, annotations = [], []
for i in range(4):
    sfx = "" if i == 0 else str(i + 1)
    x0, x1 = PLOT_X[i]
    y0, y1 = PLOT_Y[i]
    layout["xaxis" + sfx] = dict(
        domain=[px(x0), px(x1)], anchor="y" + sfx, range=[0, 364], tickmode="array",
        tickvals=TICK_DAYS, ticktext=TICK_LABELS, ticks="outside", ticklen=4, tickcolor="black",
        showline=True, linecolor="black", linewidth=1, showgrid=False, zeroline=False,
        automargin=False, tickfont=dict(family=SANS, size=9, color="black", weight="bold"))
    layout["yaxis" + sfx] = dict(
        domain=[py(y1), py(y0)], anchor="x" + sfx, range=[0, 1], tickmode="array",
        tickvals=Y_TICKS, ticktext=Y_LABELS, ticks="outside", ticklen=4, tickcolor="black",
        showline=True, linecolor="black", linewidth=1, showgrid=True, gridcolor="black",
        gridwidth=1, zeroline=False, automargin=False,
        tickfont=dict(family=SANS, size=9, color="black", weight="bold"))
    layout["legend" + sfx] = dict(
        x=px(x1), xanchor="right", y=py(y0 + 32 if i != 3 else y0 + 65), yanchor="top",
        bgcolor="white", bordercolor="black", borderwidth=1, tracegroupgap=0,
        font=dict(family=SANS, size=9, color="black"), itemwidth=30)
    # plot frame (grey top / right)
    shapes.append(dict(type="rect", xref="x%s domain" % sfx, yref="y%s domain" % sfx,
                       x0=0, x1=1, y0=0, y1=1, line=dict(color="#8a8a8a", width=1), layer="below"))
    # grey shaded band
    shapes.append(dict(type="rect", xref="x" + sfx, yref="y" + sfx,
                       x0=BAR_START[i], x1=BAR_END[i], y0=0, y1=1,
                       fillcolor="#c6c6c6", opacity=0.92 if i == 3 else 1,
                       line=dict(color="black", width=1), layer="above"))
    cx = (x0 + x1) / 2
    annotations.append(dict(text="<b>Day of year</b>", x=px(cx), y=py(y1 + 26), xref="paper",
                            yref="paper", showarrow=False, xanchor="center", yanchor="middle",
                            font=dict(family=SANS, size=9, color="black")))
    annotations.append(dict(text="<b>Probability(%) of rain/dry days</b>", textangle=-90,
                            x=px(x0 - 35), y=py(y0 + 198), xref="paper", yref="paper",
                            showarrow=False, xanchor="center", yanchor="middle",
                            font=dict(family=SANS, size=8.5, color="black")))
    annotations.append(dict(text=".", x=px(x0 - 32), y=py(y0 + 88), xref="paper", yref="paper",
                            showarrow=False, font=dict(family=SANS, size=9, color="black")))
    annotations.append(dict(text=LETTERS[i], x=px(x0 + 43), y=py(y0 + 84), xref="paper",
                            yref="paper", showarrow=False, xanchor="center", yanchor="middle",
                            font=dict(family=SERIF, size=24, color="black")))

NAME_POS = [(350, 36), (1088, 38), (362, 414), (1104, 412)]
NAME_SIZE = [22, 24, 23, 23]
for i, name in enumerate(STATIONS):
    fam = SANS if i == 0 else SERIF
    annotations.append(dict(text=name, x=px(NAME_POS[i][0]), y=py(NAME_POS[i][1]), xref="paper",
                            yref="paper", showarrow=False, xanchor="left", yanchor="middle",
                            font=dict(family=fam, size=NAME_SIZE[i], color="black")))

layout["shapes"] = shapes
layout["annotations"] = annotations
fig.update_layout(**layout)
fig.write_html("out.html")
